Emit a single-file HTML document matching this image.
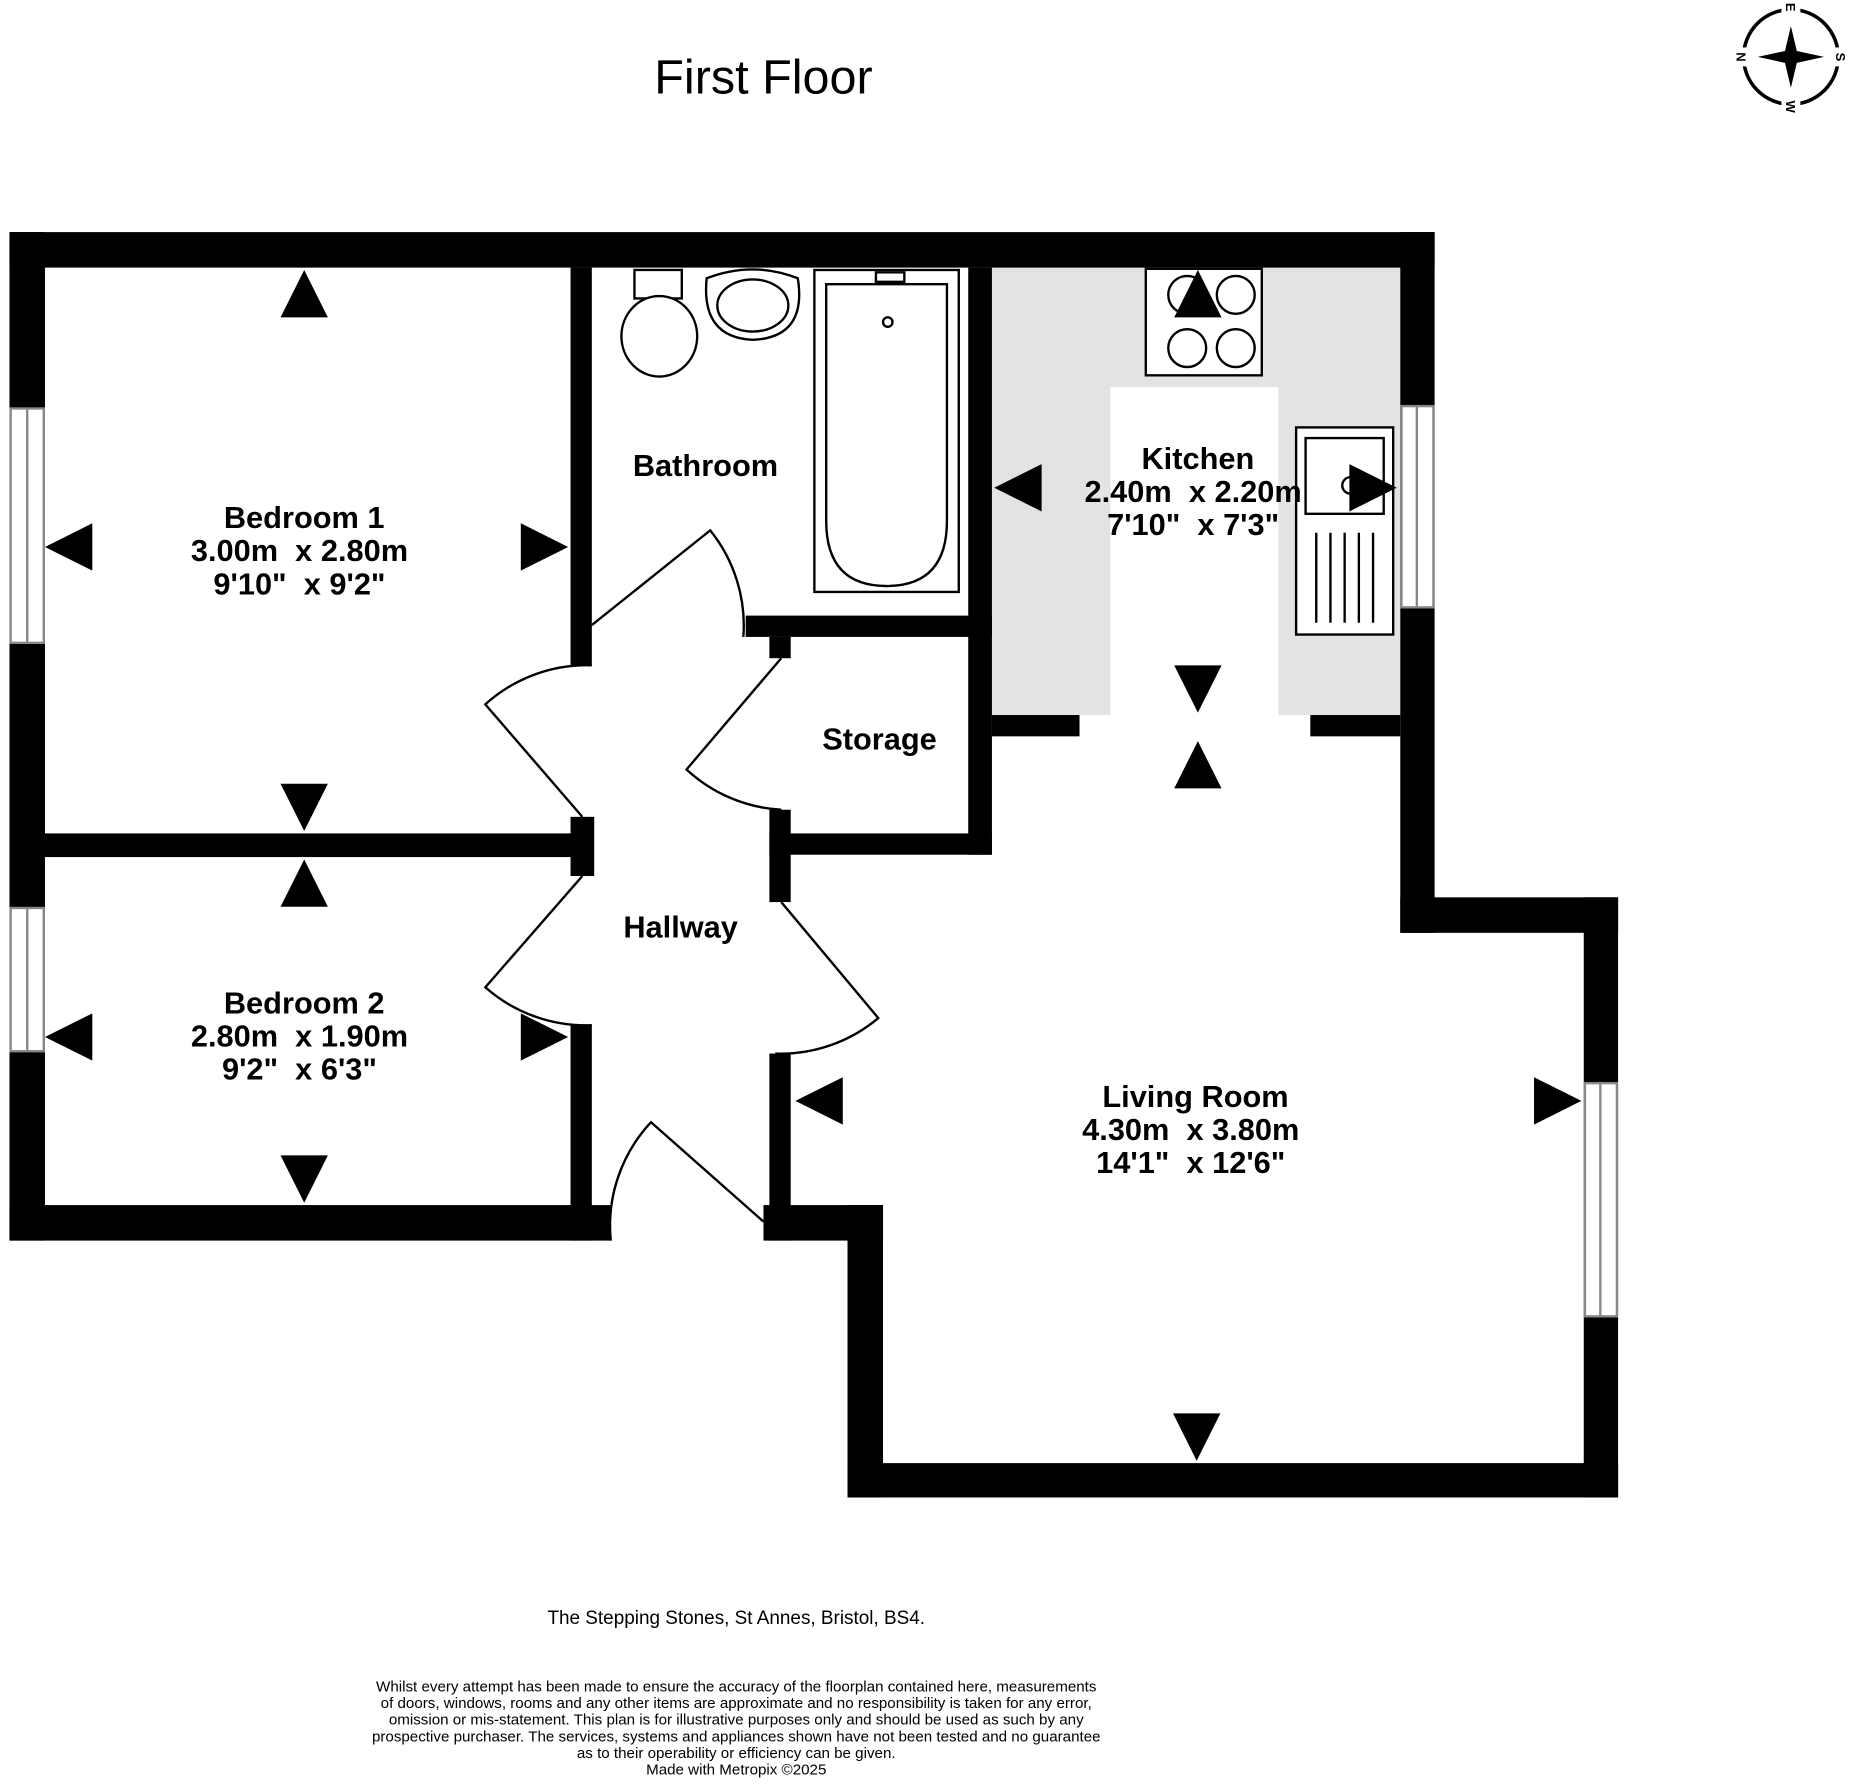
<!DOCTYPE html>
<html><head><meta charset="utf-8"><style>
html,body{margin:0;padding:0;background:#fff;}
svg{display:block;}
text{font-family:"Liberation Sans",sans-serif;white-space:pre;}
</style></head><body>
<svg width="1856" height="1784" viewBox="0 0 1568 1507" xmlns="http://www.w3.org/2000/svg" xml:space="preserve">
<rect width="1568" height="1507" fill="#fff"/>
<text x="645" y="79" font-size="41" text-anchor="middle">First Floor</text>
<g transform="translate(1513,48)">
<circle r="40" fill="none" stroke="#000" stroke-width="3"/>
<rect x="-8" y="-46" width="16" height="12" fill="#fff"/><rect x="-8" y="34" width="16" height="12" fill="#fff"/>
<rect x="-46" y="-8" width="12" height="16" fill="#fff"/><rect x="34" y="-8" width="12" height="16" fill="#fff"/>
<path d="M0,-26 L5,-5 L28,0 L5,5 L0,26 L-5,5 L-28,0 L-5,-5Z" fill="#000"/>
<text font-size="11" font-weight="bold" text-anchor="middle" transform="translate(0,-42) rotate(90)" dy="4">E</text>
<text font-size="11" font-weight="bold" text-anchor="middle" transform="translate(0,42) rotate(90)" dy="4">W</text>
<text font-size="11" font-weight="bold" text-anchor="middle" transform="translate(-42,0) rotate(90)" dy="4">N</text>
<text font-size="11" font-weight="bold" text-anchor="middle" transform="translate(42,0) rotate(90)" dy="4">S</text>
</g>
<rect x="838" y="226" width="345" height="378" fill="#e3e3e3"/>
<rect x="938" y="327" width="142" height="277" fill="#fff"/>
<g fill="#000">
<rect x="8" y="196" width="1204" height="30"/>
<rect x="8" y="196" width="30" height="852"/>
<rect x="38" y="704" width="462" height="20"/>
<rect x="8" y="1018" width="508" height="30"/>
<rect x="482" y="226" width="18" height="336"/>
<rect x="482" y="690" width="20" height="50"/>
<rect x="482" y="866" width="18" height="182"/>
<rect x="818" y="226" width="20" height="496"/>
<rect x="630" y="520" width="208" height="18"/>
<rect x="650" y="538" width="18" height="18"/>
<rect x="650" y="704" width="188" height="18"/>
<rect x="650" y="684" width="18" height="78"/>
<rect x="650" y="890" width="18" height="158"/>
<rect x="645" y="1018" width="101" height="30"/>
<rect x="716" y="1018" width="30" height="247"/>
<rect x="716" y="1236" width="651" height="29"/>
<rect x="1338" y="758" width="29" height="507"/>
<rect x="1183" y="758" width="184" height="30"/>
<rect x="1183" y="196" width="29" height="592"/>
<rect x="838" y="604" width="74" height="18"/>
<rect x="1107" y="604" width="76" height="18"/>
</g>
<g fill="#fff" stroke="#888" stroke-width="2">
<rect x="9" y="345" width="28" height="198"/><line x1="23" y1="345" x2="23" y2="543"/>
<rect x="9" y="767" width="28" height="121"/><line x1="23" y1="767" x2="23" y2="888"/>
<rect x="1184" y="343" width="27" height="170"/><line x1="1197" y1="343" x2="1197" y2="513"/>
<rect x="1339" y="915" width="27" height="197"/><line x1="1352" y1="915" x2="1352" y2="1112"/>
</g>
<g fill="none" stroke="#000" stroke-width="2">
<path d="M500,528 L600,448 A128,128 0 0 1 628,538"/>
<path d="M492,690 L410,595 A128,128 0 0 1 500,562"/>
<path d="M492,740 L410,834 A128,128 0 0 0 500,866"/>
<path d="M660,556 L580,650 A128,128 0 0 0 660,684"/>
<path d="M660,762 L742,860 A128,128 0 0 1 655,890"/>
<path d="M645,1032 L550,948 A128,128 0 0 0 516,1048"/>
</g>
<g fill="#fff" stroke="#000" stroke-width="2">
<rect x="688" y="228" width="122" height="272"/>
<path d="M698,240 L800,240 L800,440 Q800,495 749,495 Q698,495 698,440Z"/>
<circle cx="750" cy="272" r="4"/>
<rect x="740" y="230" width="24" height="8"/>
<path d="M536,228 L576,228 L576,252 L536,252Z"/>
<ellipse cx="557" cy="284" rx="32" ry="34"/>
<path d="M597,235 Q636,220 674,235 Q682,285 636,287 Q592,285 597,235Z"/>
<ellipse cx="636" cy="258" rx="30" ry="22"/>
<rect x="968" y="227" width="98" height="90"/>
<circle cx="1003" cy="249" r="16"/><circle cx="1044" cy="249" r="16"/>
<circle cx="1003" cy="294" r="16"/><circle cx="1044" cy="294" r="16"/>
<rect x="1095" y="361" width="82" height="175"/>
<rect x="1103" y="370" width="66" height="64"/>
<circle cx="1141" cy="410" r="7"/>
</g>
<g stroke="#000" stroke-width="2">
<line x1="1112" y1="450" x2="1112" y2="526"/><line x1="1124" y1="450" x2="1124" y2="526"/>
<line x1="1136" y1="450" x2="1136" y2="526"/><line x1="1148" y1="450" x2="1148" y2="526"/>
<line x1="1160" y1="450" x2="1160" y2="526"/>
</g>
<g fill="#000">
<path d="M237,268 L277,268 L257,228Z"/>
<path d="M78,442 L78,482 L38,462Z"/>
<path d="M440,442 L440,482 L480,462Z"/>
<path d="M237,662 L277,662 L257,702Z"/>
<path d="M237,766 L277,766 L257,726Z"/>
<path d="M78,856 L78,896 L38,876Z"/>
<path d="M440,856 L440,896 L480,876Z"/>
<path d="M237,976 L277,976 L257,1016Z"/>
<path d="M992,268 L1032,268 L1012,228Z"/>
<path d="M880,392 L880,432 L840,412Z"/>
<path d="M1140,392 L1140,432 L1180,412Z"/>
<path d="M992,562 L1032,562 L1012,602Z"/>
<path d="M992,666 L1032,666 L1012,626Z"/>
<path d="M712,910 L712,950 L672,930Z"/>
<path d="M1296,910 L1296,950 L1336,930Z"/>
<path d="M991,1194 L1031,1194 L1011,1234Z"/>
</g>
<g font-size="26" font-weight="bold" text-anchor="middle">
<text x="257" y="446">Bedroom 1</text>
<text x="253" y="474">3.00m  x 2.80m</text>
<text x="253" y="502">9'10"  x 9'2"</text>
<text x="596" y="402">Bathroom</text>
<text x="1012" y="396">Kitchen</text>
<text x="1008" y="424">2.40m  x 2.20m</text>
<text x="1008" y="452">7'10"  x 7'3"</text>
<text x="743" y="633">Storage</text>
<text x="575" y="792">Hallway</text>
<text x="257" y="856">Bedroom 2</text>
<text x="253" y="884">2.80m  x 1.90m</text>
<text x="253" y="912">9'2"  x 6'3"</text>
<text x="1010" y="935">Living Room</text>
<text x="1006" y="963">4.30m  x 3.80m</text>
<text x="1006" y="991">14'1"  x 12'6"</text>
</g>
<text x="622" y="1372" font-size="16" text-anchor="middle">The Stepping Stones, St Annes, Bristol, BS4.</text>
<g font-size="12.8" text-anchor="middle">
<text x="622" y="1429">Whilst every attempt has been made to ensure the accuracy of the floorplan contained here, measurements</text>
<text x="622" y="1443">of doors, windows, rooms and any other items are approximate and no responsibility is taken for any error,</text>
<text x="622" y="1457">omission or mis-statement. This plan is for illustrative purposes only and should be used as such by any</text>
<text x="622" y="1471">prospective purchaser. The services, systems and appliances shown have not been tested and no guarantee</text>
<text x="622" y="1485">as to their operability or efficiency can be given.</text>
<text x="622" y="1499">Made with Metropix ©2025</text>
</g>
</svg>
</body></html>
